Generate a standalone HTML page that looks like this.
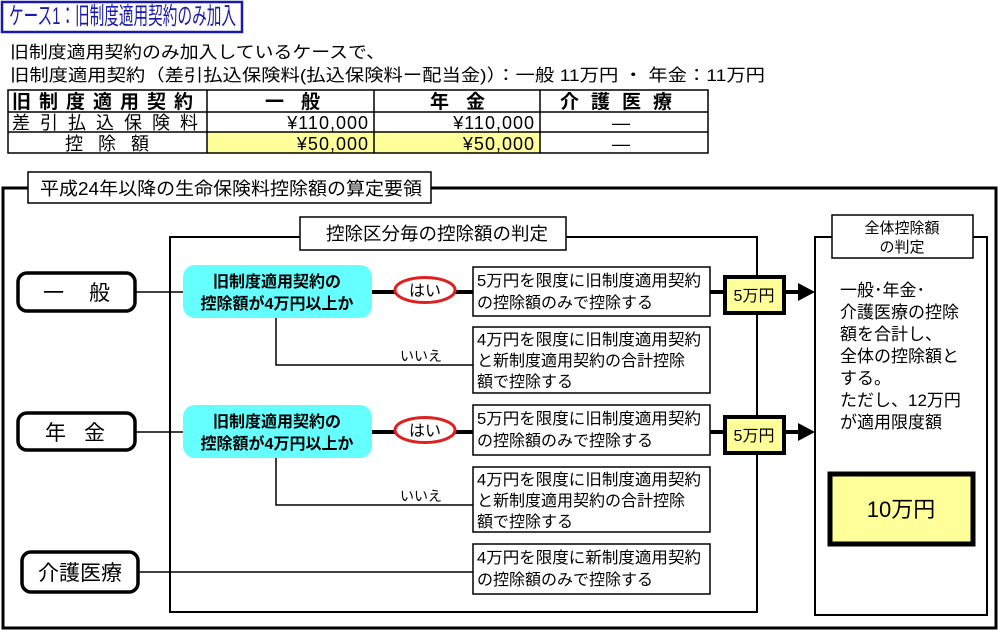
<!DOCTYPE html>
<html><head><meta charset="utf-8"><style>
body{margin:0;background:#fff;width:1000px;height:632px;overflow:hidden;position:relative}
svg text{font-family:"Liberation Sans","Noto Sans CJK JP",sans-serif;fill:#000}
#tt{position:absolute;left:9px;top:2px;font:24px "Liberation Sans","Noto Sans CJK JP",sans-serif;color:#1a1aa8;white-space:nowrap;transform-origin:0 0;transform:scaleX(0.61);line-height:30px}
</style></head><body>
<svg width="1000" height="632" xmlns="http://www.w3.org/2000/svg">
<!-- title -->
<rect x="2" y="2" width="240" height="30" fill="#fff" stroke="#1a1aa8" stroke-width="2.5"/>
<text x="10" y="58" font-size="17" textLength="375" lengthAdjust="spacingAndGlyphs">旧制度適用契約のみ加入しているケースで、</text>
<text x="10" y="81" font-size="17" textLength="755" lengthAdjust="spacingAndGlyphs">旧制度適用契約（差引払込保険料(払込保険料ー配当金)）：一般 11万円 ・ 年金：11万円</text>
<!-- table -->
<rect x="208" y="132" width="332" height="21" fill="#ffff99"/>
<g stroke="#000" stroke-width="1.5" fill="none">
<rect x="8" y="90" width="700" height="63"/>
<line x1="8" y1="112" x2="708" y2="112"/><line x1="8" y1="132" x2="708" y2="132"/>
<line x1="207" y1="90" x2="207" y2="153"/><line x1="374" y1="90" x2="374" y2="153"/><line x1="540" y1="90" x2="540" y2="153"/>
</g>
<g font-size="19" font-weight="bold">
<text x="12" y="108" letter-spacing="8">旧制度適用契約</text>
<text x="265" y="108" letter-spacing="17">一般</text>
<text x="430" y="108" letter-spacing="17">年金</text>
<text x="560" y="108" letter-spacing="12">介護医療</text>
</g>
<g font-size="18">
<text x="12" y="129" letter-spacing="10">差引払込保険料</text>
<text x="65" y="150" letter-spacing="15">控除額</text>
<text x="612" y="129">―</text><text x="612" y="150">―</text>
</g>
<g font-size="18" text-anchor="end" letter-spacing="1">
<text x="369" y="129">¥110,000</text><text x="535" y="129">¥110,000</text>
<text x="369" y="150">¥50,000</text><text x="535" y="150">¥50,000</text>
</g>
<!-- outer frame -->
<rect x="3" y="188" width="993" height="440" fill="none" stroke="#000" stroke-width="3"/>
<rect x="28" y="172" width="403" height="31" fill="#fff" stroke="#000" stroke-width="1.5"/>
<text x="40" y="195" font-size="18" textLength="382" lengthAdjust="spacingAndGlyphs">平成24年以降の生命保険料控除額の算定要領</text>
<!-- inner box -->
<rect x="170" y="237" width="587" height="375" fill="none" stroke="#000" stroke-width="2"/>
<rect x="300" y="217" width="266" height="33" fill="#fff" stroke="#000" stroke-width="1.5"/>
<text x="326" y="240" font-size="18" textLength="222" lengthAdjust="spacingAndGlyphs">控除区分毎の控除額の判定</text>
<!-- right box -->
<rect x="815" y="237" width="172" height="378" fill="none" stroke="#000" stroke-width="2"/>
<rect x="832" y="215" width="141" height="43" fill="#fff" stroke="#000" stroke-width="1.5"/>
<g font-size="15" text-anchor="middle"><text x="902" y="233">全体控除額</text><text x="902" y="252">の判定</text></g>
<g font-size="17"><text x="840" y="296">一般･年金･</text><text x="840" y="318">介護医療の控除</text><text x="840" y="340">額を合計し、</text><text x="840" y="362">全体の控除額と</text><text x="840" y="384">する。</text><text x="840" y="406">ただし、12万円</text><text x="840" y="428">が適用限度額</text></g>
<rect x="830" y="474" width="143" height="70" fill="#ffff99" stroke="#000" stroke-width="5"/>
<text x="901" y="517" font-size="22" text-anchor="middle">10万円</text>
<!-- connectors -->
<g stroke="#000" stroke-width="1.5" fill="none">
<line x1="135" y1="292" x2="183" y2="292"/><line x1="135" y1="432" x2="183" y2="432"/><line x1="138" y1="572" x2="473" y2="572"/>
<polyline points="276,318 276,365 473,365"/><polyline points="276,458 276,505 473,505"/>
</g>
<g stroke="#000" stroke-width="4">
<line x1="372" y1="292" x2="473" y2="292"/><line x1="372" y1="432" x2="473" y2="432"/>
<line x1="710" y1="292" x2="800" y2="292"/><line x1="710" y1="432" x2="800" y2="432"/>
</g>
<polygon points="798,283 815,292 798,301" fill="#000"/><polygon points="798,423 815,432 798,441" fill="#000"/>
<!-- left labels -->
<g fill="#fff" stroke="#000" stroke-width="3.5">
<rect x="18" y="273" width="117" height="38" rx="9"/><rect x="18" y="413" width="117" height="37" rx="9"/><rect x="22" y="552" width="116" height="40" rx="9"/>
</g>
<g font-size="21"><text x="43" y="300" letter-spacing="25">一般</text><text x="45" y="440" letter-spacing="18">年金</text><text x="38" y="580">介護医療</text></g>
<!-- cyan -->
<rect x="183" y="265" width="189" height="53" rx="12" fill="#66ffff"/><rect x="183" y="405" width="189" height="53" rx="12" fill="#66ffff"/>
<g font-size="16" font-weight="bold" text-anchor="middle">
<text x="277" y="287">旧制度適用契約の</text><text x="277" y="309">控除額が4万円以上か</text>
<text x="277" y="427">旧制度適用契約の</text><text x="277" y="449">控除額が4万円以上か</text></g>
<ellipse cx="425" cy="290" rx="30" ry="12.5" fill="#fff" stroke="#e02020" stroke-width="3"/>
<ellipse cx="425" cy="430" rx="30" ry="12.5" fill="#fff" stroke="#e02020" stroke-width="3"/>
<text x="425" y="296" font-size="16" text-anchor="middle">はい</text><text x="425" y="436" font-size="16" text-anchor="middle">はい</text>
<text x="400" y="361" font-size="14">いいえ</text><text x="400" y="501" font-size="14">いいえ</text>
<!-- text boxes -->
<g fill="#fff" stroke="#000" stroke-width="1.5">
<rect x="473" y="267" width="237" height="49"/><rect x="473" y="327" width="237" height="66"/><rect x="473" y="405" width="237" height="50"/><rect x="473" y="467" width="237" height="65"/><rect x="473" y="544" width="237" height="50"/>
</g>
<g font-size="16">
<text x="477" y="286" textLength="224" lengthAdjust="spacingAndGlyphs">5万円を限度に旧制度適用契約</text><text x="477" y="308">の控除額のみで控除する</text>
<text x="477" y="345" textLength="224" lengthAdjust="spacingAndGlyphs">4万円を限度に旧制度適用契約</text><text x="477" y="366">と新制度適用契約の合計控除</text><text x="477" y="387">額で控除する</text>
<text x="477" y="424" textLength="224" lengthAdjust="spacingAndGlyphs">5万円を限度に旧制度適用契約</text><text x="477" y="446">の控除額のみで控除する</text>
<text x="477" y="485" textLength="224" lengthAdjust="spacingAndGlyphs">4万円を限度に旧制度適用契約</text><text x="477" y="506">と新制度適用契約の合計控除</text><text x="477" y="527">額で控除する</text>
<text x="477" y="563" textLength="224" lengthAdjust="spacingAndGlyphs">4万円を限度に新制度適用契約</text><text x="477" y="585">の控除額のみで控除する</text>
</g>
<rect x="725" y="277" width="59" height="36" fill="#ffff99" stroke="#000" stroke-width="4"/>
<rect x="725" y="417" width="59" height="36" fill="#ffff99" stroke="#000" stroke-width="4"/>
<text x="754" y="301" font-size="16" text-anchor="middle">5万円</text><text x="754" y="441" font-size="16" text-anchor="middle">5万円</text>
</svg>
<div id="tt">ケース1：旧制度適用契約のみ加入</div>
</body></html>
